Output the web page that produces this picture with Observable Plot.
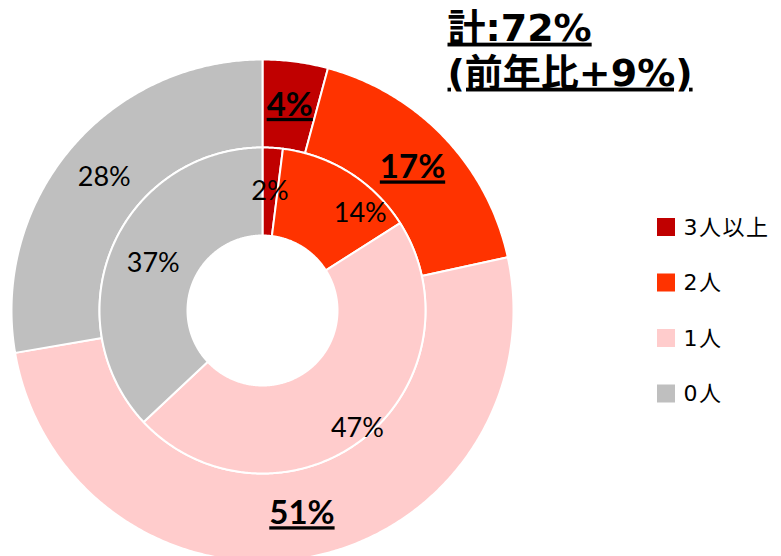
<!DOCTYPE html>
<html><head><meta charset="utf-8">
<script src="https://cdn.jsdelivr.net/npm/d3@7"></script>
<script src="https://cdn.jsdelivr.net/npm/@observablehq/plot@0.6"></script>
<style>
body{margin:0;background:#fff;}
.ul text{text-decoration:underline;}
.leg text{letter-spacing:1.5px;}
</style></head><body><div id="chart"></div>
<script>
// ---- data ----
const categories = ["3人以上", "2人", "1人", "0人"];
const colors = ["#C00000", "#FF3300", "#FFCCCC", "#BFBFBF"];
const outerValues = [4.2, 17.4, 50.7, 27.7];   // outer ring (%)
const innerValues = [2, 14, 47, 37];           // inner ring (%)
const outerLabels = ["4%", "17%", "51%", "28%"];
const innerLabels = ["2%", "14%", "47%", "37%"];
const outerBold = [true, true, true, false];
const titleLines = ["計:72%", "(前年比+9%)"];

// ---- layout ----
const cx = 262, cy = 310;
const rHole = 75, rMid = 163, rOuter = 251;
const innerLabelShift = [[0, 0], [34, 3], [22, 24], [0, 0]];

function ring(values, r0, r1, ringName) {
  const total = d3.sum(values);
  const pts = [];
  const labels = [];
  let acc = 0;
  values.forEach((v, i) => {
    const a0 = acc / total * 2 * Math.PI;
    acc += v;
    const a1 = acc / total * 2 * Math.PI;
    const n = Math.max(2, Math.ceil((a1 - a0) / (Math.PI / 360)));
    const id = ringName + i;
    for (let k = 0; k <= n; k++) {
      const a = a0 + (a1 - a0) * k / n;
      pts.push({id, cat: categories[i], x: cx + r1 * Math.sin(a), y: cy - r1 * Math.cos(a)});
    }
    for (let k = n; k >= 0; k--) {
      const a = a0 + (a1 - a0) * k / n;
      pts.push({id, cat: categories[i], x: cx + r0 * Math.sin(a), y: cy - r0 * Math.cos(a)});
    }
    const am = (a0 + a1) / 2, rm = (r0 + r1) / 2;
    labels.push({i, x: cx + rm * Math.sin(am), y: cy - rm * Math.cos(am)});
  });
  return {pts, labels};
}

const outer = ring(outerValues, rMid, rOuter, "o");
const inner = ring(innerValues, rHole, rMid, "i");

const outerLab = outer.labels.map(d => ({...d, text: outerLabels[d.i], bold: outerBold[d.i]}));
const innerLab = inner.labels.map(d => ({...d, text: innerLabels[d.i],
  x: d.x + innerLabelShift[d.i][0], y: d.y + innerLabelShift[d.i][1]}));

const legendData = categories.map((c, i) => ({cat: c, i}));
const legX = 666, legY0 = 227, legStep = 55.5, sw = 18;

const chart = Plot.plot({
  width: 781, height: 556, margin: 0,
  x: {type: "identity", axis: null},
  y: {type: "identity", axis: null},
  color: {domain: categories, range: colors},
  style: {background: "white"},
  marks: [
    Plot.line(outer.pts.concat(inner.pts), {x: "x", y: "y", z: "id", fill: "cat",
      stroke: "white", strokeWidth: 2, curve: "linear-closed"}),
    Plot.text(outerLab.filter(d => d.bold), {x: "x", y: "y", text: "text",
      fontFamily: "Lato", fontWeight: "bold", fontSize: 33, fill: "black", className: "ul"}),
    Plot.text(outerLab.filter(d => !d.bold), {x: "x", y: "y", text: "text",
      fontFamily: "Lato", fontSize: 27, fill: "black"}),
    Plot.text(innerLab, {x: "x", y: "y", text: "text",
      fontFamily: "Lato", fontSize: 27, fill: "black"}),
    Plot.text(titleLines, {x: () => 447, y: (d, i) => 28 + i * 45, text: d => d,
      textAnchor: "start", fontFamily: "DejaVu Sans, Noto Sans CJK JP", fontWeight: "bold",
      fontSize: 38, fill: "black", className: "ul"}),
    Plot.rect(legendData, {x1: () => legX - sw / 2, x2: () => legX + sw / 2,
      y1: d => legY0 + d.i * legStep - sw / 2, y2: d => legY0 + d.i * legStep + sw / 2,
      fill: "cat"}),
    Plot.text(legendData, {x: () => 683, y: d => legY0 + d.i * legStep, text: "cat",
      textAnchor: "start", fontFamily: "DejaVu Sans, Noto Sans CJK JP", fontSize: 22,
      fill: "#000", className: "leg"})
  ]
});
document.getElementById("chart").appendChild(chart);
</script></body></html>
